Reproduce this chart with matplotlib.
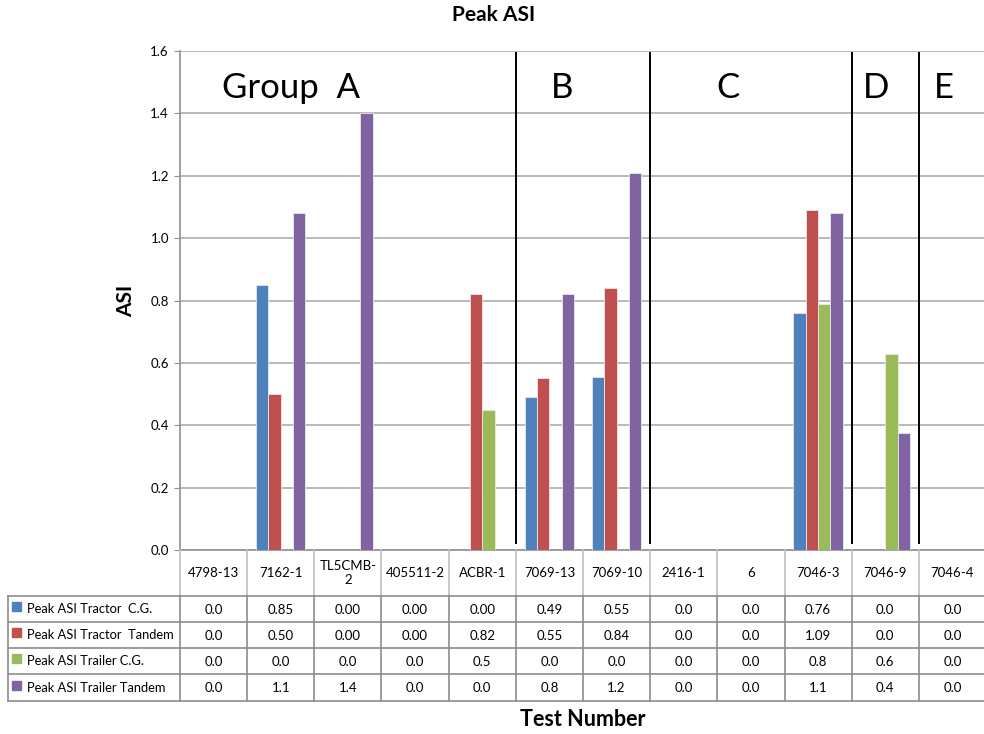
import matplotlib
matplotlib.use("Agg")
import matplotlib.pyplot as plt
import numpy as np

categories = ["4798-13", "7162-1", "TL5CMB-\n2", "405511-2", "ACBR-1", "7069-13",
              "7069-10", "2416-1", "6", "7046-3", "7046-9", "7046-4"]
series_names = ["Peak ASI Tractor  C.G.", "Peak ASI Tractor  Tandem",
                "Peak ASI Trailer C.G.", "Peak ASI Trailer Tandem"]
tractor_cg = [0.0, 0.85, 0.0, 0.0, 0.0, 0.49, 0.555, 0.0, 0.0, 0.76, 0.0, 0.0]
tractor_tandem = [0.0, 0.50, 0.0, 0.0, 0.82, 0.55, 0.84, 0.0, 0.0, 1.09, 0.0, 0.0]
trailer_cg = [0.0, 0.0, 0.0, 0.0, 0.45, 0.0, 0.0, 0.0, 0.0, 0.79, 0.63, 0.0]
trailer_tandem = [0.0, 1.08, 1.40, 0.0, 0.0, 0.82, 1.21, 0.0, 0.0, 1.08, 0.375, 0.0]
table_tractor_cg = ["0.0", "0.85", "0.00", "0.00", "0.00", "0.49", "0.55", "0.0", "0.0", "0.76", "0.0", "0.0"]
table_tractor_tandem = ["0.0", "0.50", "0.00", "0.00", "0.82", "0.55", "0.84", "0.0", "0.0", "1.09", "0.0", "0.0"]
table_trailer_cg = ["0.0", "0.0", "0.0", "0.0", "0.5", "0.0", "0.0", "0.0", "0.0", "0.8", "0.6", "0.0"]
table_trailer_tandem = ["0.0", "1.1", "1.4", "0.0", "0.0", "0.8", "1.2", "0.0", "0.0", "1.1", "0.4", "0.0"]
group_labels = ["Group  A", "B", "C", "D", "E"]
group_label_x = [1.16, 5.19, 7.66, 9.87, 10.87]
group_dividers = [4.5, 6.5, 9.5, 10.5]
colors = ["#4F81BD", "#C0504D", "#9BBB59", "#8064A2"]

FONT = ["Lato", "DejaVu Sans"]
plt.rcParams["font.family"] = FONT

W, H = 984, 734
fig = plt.figure(figsize=(W / 100, H / 100), dpi=100)

def px(x0, y0, x1, y1):
    return [x0 / W, 1 - y1 / H, (x1 - x0) / W, (y1 - y0) / H]

R = 986
ax = fig.add_axes(px(180, 51, R, 550))
n = len(categories)
x = np.arange(n)
bw = 0.184
all_series = [tractor_cg, tractor_tandem, trailer_cg, trailer_tandem]
for i, (vals, c) in enumerate(zip(all_series, colors)):
    ax.bar(x + (i - 1.5) * bw, vals, width=bw, color=c, edgecolor="#E8E8F0",
           linewidth=0.6, zorder=3)

ax.set_xlim(-0.5, n - 0.5)
ax.set_ylim(0, 1.6)
ax.set_yticks(np.arange(0, 1.61, 0.2))
ax.set_yticklabels([f"{v:.1f}" for v in np.arange(0, 1.61, 0.2)], fontsize=9.5)
ax.set_xticks([])
ax.grid(axis="y", color="#A6A6A6", linewidth=1.1, zorder=0)
for s in ["top", "right"]:
    ax.spines[s].set_visible(False)
for s in ["left", "bottom"]:
    ax.spines[s].set_color("#909090")
    ax.spines[s].set_linewidth(1.2)
ax.tick_params(axis="y", length=4, color="#909090", pad=4)

for d in group_dividers:
    ax.axvline(d, ymin=0.014, ymax=0.995, color="black", linewidth=1.4, zorder=4)
for lbl, gx in zip(group_labels, group_label_x):
    ax.text(gx, 1.48, lbl, fontsize=25, ha="center", va="center", zorder=5)

ax.set_ylabel("ASI", fontsize=15, fontweight="bold", labelpad=10)
fig.text(494 / W, 1 - 15 / H, "Peak ASI", ha="center", va="center", fontsize=15, fontweight="bold")
fig.text(583 / W, 1 - 720 / H, "Test Number", ha="center", va="center", fontsize=15.5, fontweight="bold")

# data table
tax = fig.add_axes(px(180, 550, R, 701))
tax.set_xlim(-0.5, n - 0.5)
tax.set_ylim(151, 0)
tax.axis("off")
unit = (R - 180) / n
left_data = -0.5 - (180 - 8) / unit
row_edges = [0, 46, 72, 98, 124, 151]
line_kw = dict(color="#8C8C8C", linewidth=1.2, clip_on=False)
for k in range(n + 1):
    tax.plot([k - 0.5, k - 0.5], [0, row_edges[1]], color="#BFBFBF", linewidth=1.2, clip_on=False)
for k in range(n + 1):
    tax.plot([k - 0.5, k - 0.5], [row_edges[1], row_edges[-1]], **line_kw)
tax.plot([left_data, left_data], [row_edges[1], row_edges[-1]], **line_kw)
for r in row_edges[1:]:
    tax.plot([left_data, n - 0.5], [r, r], **line_kw)
for k, c in enumerate(categories):
    tax.text(k, row_edges[1] / 2, c, ha="center", va="center", fontsize=9.5, linespacing=1.3)
tables = [table_tractor_cg, table_tractor_tandem, table_trailer_cg, table_trailer_tandem]
for r, (name, vals, col) in enumerate(zip(series_names, tables, colors)):
    yc = (row_edges[r + 1] + row_edges[r + 2]) / 2
    for k, v in enumerate(vals):
        tax.text(k, yc + 1, v, ha="center", va="center", fontsize=9.5)
    sq_x = left_data + 4 / unit
    tax.add_patch(plt.Rectangle((sq_x, yc - 7), 9 / unit, 9, color=col, clip_on=False))
    tax.text(left_data + 19 / unit, yc, name, ha="left", va="center", fontsize=9.3)

fig.savefig("out.png", dpi=100)
